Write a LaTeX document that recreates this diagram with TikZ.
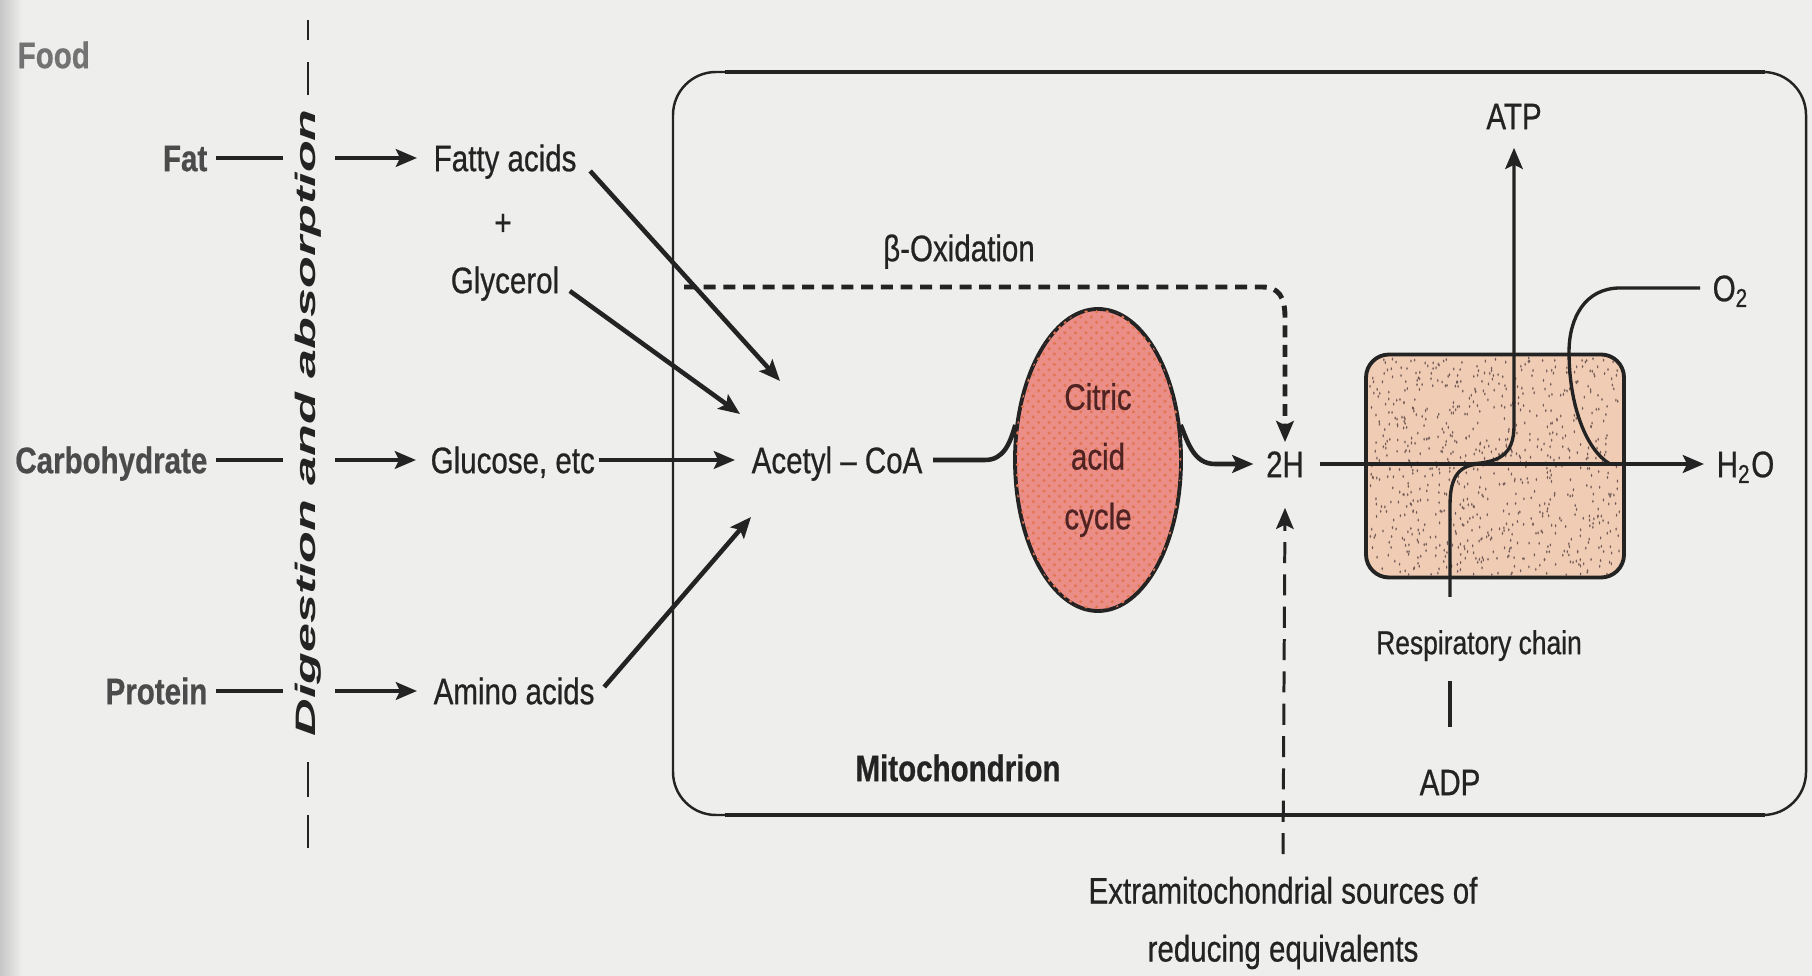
\documentclass[tikz,border=0pt]{standalone}
\usepackage{fontspec}
\setmainfont{Liberation Sans}[FakeStretch=0.8, FakeBold=0.6]
\newfontfamily\vfont{Liberation Sans}[FakeStretch=1.85]
\usetikzlibrary{arrows.meta,shapes.geometric,patterns}
\definecolor{bg}{RGB}{238,238,237}
\definecolor{ink}{RGB}{35,35,35}
\definecolor{gink}{RGB}{75,75,75}
\definecolor{cacfill}{RGB}{236,142,136}
\definecolor{cacdot}{RGB}{226,118,84}
\definecolor{cactext}{RGB}{80,35,35}
\definecolor{rcfill}{RGB}{240,204,180}
\definecolor{rcdot}{RGB}{115,92,88}
\begin{document}
\begin{tikzpicture}[x=0.1mm,y=-0.1mm,
  txt/.style={inner sep=0pt, text=ink, font=\fontsize{10.5}{12.6}\selectfont, text height=7.5pt, text depth=0pt},
  lft/.style={txt, text=gink, font=\fontsize{10.5}{12.6}\selectfont\bfseries},
  ln/.style={draw=ink, line width=1.3pt},
  lnthin/.style={draw=ink, line width=0.95pt},
  tip/.style={-{Stealth[length=6pt,width=5pt,inset=1.2pt]}},
  arr/.style={ln, tip},
  arrthin/.style={lnthin, tip},
  dshA/.style={draw=ink, line width=1.4pt, dash pattern=on 3.4pt off 2.2pt},
  dshB/.style={draw=ink, line width=0.85pt, dash pattern=on 6pt off 3.2pt},
]
% background and bounding box
\fill[bg] (0,0) rectangle (1812,976);
\shade[left color=black!22, right color=bg] (0,0) rectangle (22,976);
\useasboundingbox (0,0) rectangle (1812,976);

% mitochondrion box
\draw[ink, line width=0.7pt, rounded corners=4.3mm] (673,72) rectangle (1806,815);
\draw[ink, line width=1.3pt] (725,72) -- (1765,72) (725,815) -- (1765,815);
\node[txt, font=\fontsize{10.5}{12.6}\selectfont\bfseries] (mito) at (958,768) {Mitochondrion};

% left labels
\node[lft, anchor=west, text=black!55] (food) at (17,55) {Food};
\node[lft, anchor=east] (fat) at (208,158) {Fat};
\node[lft, anchor=east] (carb) at (208,460) {Carbohydrate};
\node[lft, anchor=east] (prot) at (208,691) {Protein};

% digestion and absorption
\node[rotate=90, inner sep=0pt, text=ink, font=\vfont\bfseries\itshape\fontsize{8}{9}\selectfont] (dig) at (308,423) {Digestion and absorption};
\draw[ink, line width=0.8pt] (308,20) -- (308,40) (308,62) -- (308,95)
  (308,762) -- (308,797) (308,815) -- (308,848);

% products
\node[txt, anchor=west] (fa) at (433,158) {Fatty acids};
\node[txt] (plus) at (503,222) {+};
\node[txt] (gly) at (505,280) {Glycerol};
\node[txt, anchor=west] (glu) at (430,460) {Glucose, etc};
\node[txt, anchor=west] (aa) at (433,691) {Amino acids};
\node[txt, anchor=west] (acoa) at (751,460) {Acetyl – CoA};

\draw[ln] ([xshift=0.8mm]fat.east) -- (283,158);
\draw[arr] (335,158) -- ([xshift=-1.6mm]fa.west);
\draw[ln] ([xshift=0.8mm]carb.east) -- (283,460);
\draw[arr] (335,460) -- ([xshift=-1.4mm]glu.west);
\draw[ln] ([xshift=0.8mm]prot.east) -- (283,691);
\draw[arr] (335,691) -- ([xshift=-1.6mm]aa.west);

\coordinate (e1) at (780,381);
\coordinate (e2) at (740,414);
\coordinate (e3) at (751,517);
\draw[arr] ([shift={(13,13)}]fa.east) -- (e1);
\draw[arr] ([shift={(10,11)}]gly.east) -- (e2);
\draw[arr] ([shift={(9,-4)}]aa.east) -- (e3);
\draw[arr] ([xshift=0.3mm]glu.east) -- ([xshift=-1.6mm]acoa.west);

% citric acid cycle
\node[ellipse, draw=ink, line width=1.1pt, fill=cacfill,
  postaction={pattern=crosshatch dots, pattern color=cacdot},
  minimum width=16.6mm, minimum height=30.2mm, inner sep=0pt, align=center,
  text=cactext, font=\fontsize{10.5}{17}\selectfont] (cac) at (1098,460) {Citric\\acid\\cycle};

\node[txt] (twoH) at (1285,464) {2H};
\draw[ln] ([xshift=1mm]acoa.east) -- (985,460) .. controls (1004,460) and (1010,443) .. (cac.157);
\draw[arr] (cac.23) .. controls (1188,443) and (1194,464) .. (1215,464) -- ([xshift=-1.2mm]twoH.west);

% beta oxidation
\node[txt] (box) at (959,248) {β-Oxidation};
\draw[dshA, tip] (684,287) -- (1262,287) .. controls (1279,287) and (1285,297) .. (1285,318) -- ([yshift=0.8mm]twoH.north);

% extramitochondrial
\node[inner sep=0pt, text=ink, align=center, font=\fontsize{10.5}{16.5}\selectfont] (ext) at (1283,923) {Extramitochondrial sources of\\reducing equivalents};
\draw[dshB, tip] ([yshift=2.2mm]ext.north) -- ([yshift=-3mm]twoH.south);

% respiratory chain
\node[draw=ink, line width=1.1pt, rounded corners=2.3mm, fill=rcfill,
  minimum width=25.8mm, minimum height=22.3mm, inner sep=0pt] (rc) at (1495,466) {};
\begin{scope}
  \pgfmathsetseed{7}
  \clip[rounded corners=2.3mm] ([shift={(3,-3)}]rc.south west) rectangle ([shift={(-3,3)}]rc.north east);
  \foreach \i in {1,...,800} {
    \fill[rcdot] ({1370+250*rnd},{358+217*rnd}) ellipse (0.08mm and 0.17mm);
  }
\end{scope}

\node[txt, anchor=west] (hto) at (1716,464) {H\textsubscript{2}O};
\node[txt, anchor=west] (otwo) at (1712,288) {O\textsubscript{2}};
\node[txt] (atp) at (1514,116) {ATP};
\node[txt] (adp) at (1450,782) {ADP};
\node[txt, font=\fontsize{9.4}{11}\selectfont] (rcl) at (1479,641) {Respiratory chain};

\draw[arr, line width=1.2pt] ([xshift=1.5mm]twoH.east) -- ([xshift=-1.2mm]hto.west);
\draw[arrthin] (1462,464) .. controls (1500,464) and (1514,455) .. (1514,425) -- ([yshift=-1.8mm]atp.south);
\coordinate (adpTop) at (1450,597);
\draw[lnthin] (adpTop) -- (1450,505) .. controls (1450,478) and (1458,464) .. (1482,464);
\draw[lnthin] ([yshift=4.1mm]adp.north) -- ([yshift=8.7mm]adp.north);
\draw[lnthin] ([xshift=-1.2mm]otwo.west) -- (1620,288) .. controls (1585,288) and (1569,318) .. (1569,352) .. controls (1569,405) and (1586,450) .. (1610,464);
\end{tikzpicture}
\end{document}
